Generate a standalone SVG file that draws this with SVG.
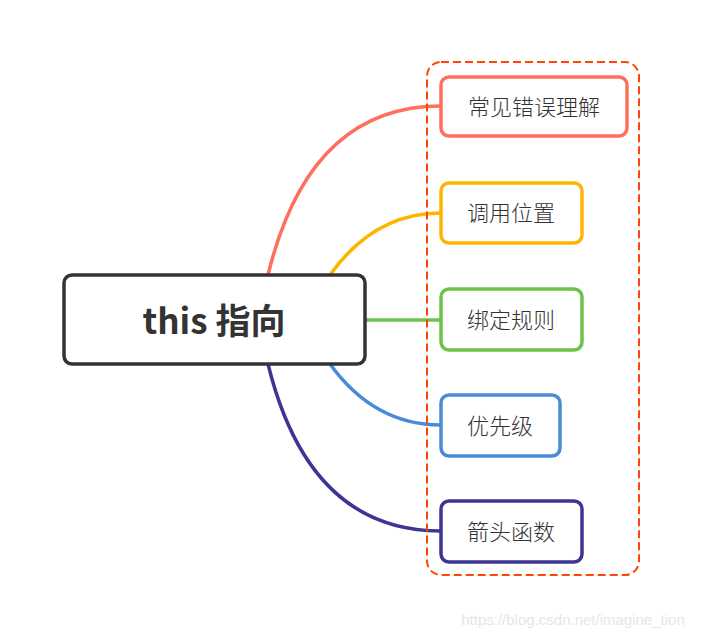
<svg xmlns="http://www.w3.org/2000/svg" width="702" height="637" viewBox="0 0 702 637">
<style>
.node{fill:#fff;stroke-width:3.5}
.lbl{font-family:"Noto Sans CJK SC","Noto Sans",sans-serif;font-size:22px;font-weight:300;fill:#333;text-anchor:middle;dominant-baseline:central}
.edge{fill:none;stroke-width:3.5}
</style>
<rect width="702" height="637" fill="#fff"/>
<g id="connectors">
<path class="edge" stroke="#FF6F5E" d="M268 275 Q309 106 441 106"/>
<path class="edge" stroke="#FFB400" d="M330 275 Q374 213 441 213"/>
<path class="edge" stroke="#6CC24A" d="M365 320 L441 320"/>
<path class="edge" stroke="#4A8BD8" d="M330 364 Q374 425 441 425"/>
<path class="edge" stroke="#3D3592" d="M268 364 Q309 531 441 531"/>
</g>
<rect id="group-box" x="427" y="62" width="212" height="513" rx="14" fill="none" stroke="#FF4500" stroke-width="2" stroke-dasharray="8 4"/>
<g id="root">
<rect class="node" x="64" y="275" width="301" height="89" rx="8" stroke="#333" stroke-width="4"/>
<text x="214" y="318" class="lbl" style="font-size:35px;font-weight:bold">this 指向</text>
</g>
<g id="n1"><rect class="node" x="441" y="77" width="186" height="59" rx="8" stroke="#FF6F5E"/><text class="lbl" x="534" y="104.5">常见错误理解</text></g>
<g id="n2"><rect class="node" x="441" y="183" width="141" height="60" rx="8" stroke="#FFB400"/><text class="lbl" x="511" y="211">调用位置</text></g>
<g id="n3"><rect class="node" x="441" y="289" width="141" height="61" rx="8" stroke="#6CC24A"/><text class="lbl" x="511" y="317.5">绑定规则</text></g>
<g id="n4"><rect class="node" x="441" y="395" width="119" height="61" rx="8" stroke="#4A8BD8"/><text class="lbl" x="500" y="423.5">优先级</text></g>
<g id="n5"><rect class="node" x="441" y="501" width="141" height="61" rx="8" stroke="#3D3592"/><text class="lbl" x="511" y="529.5">箭头函数</text></g>
<text x="573" y="625" style="font-family:'Liberation Sans',sans-serif;font-size:15px;fill:#e6e6e6;text-anchor:middle">https://blog.csdn.net/imagine_tion</text>
</svg>
